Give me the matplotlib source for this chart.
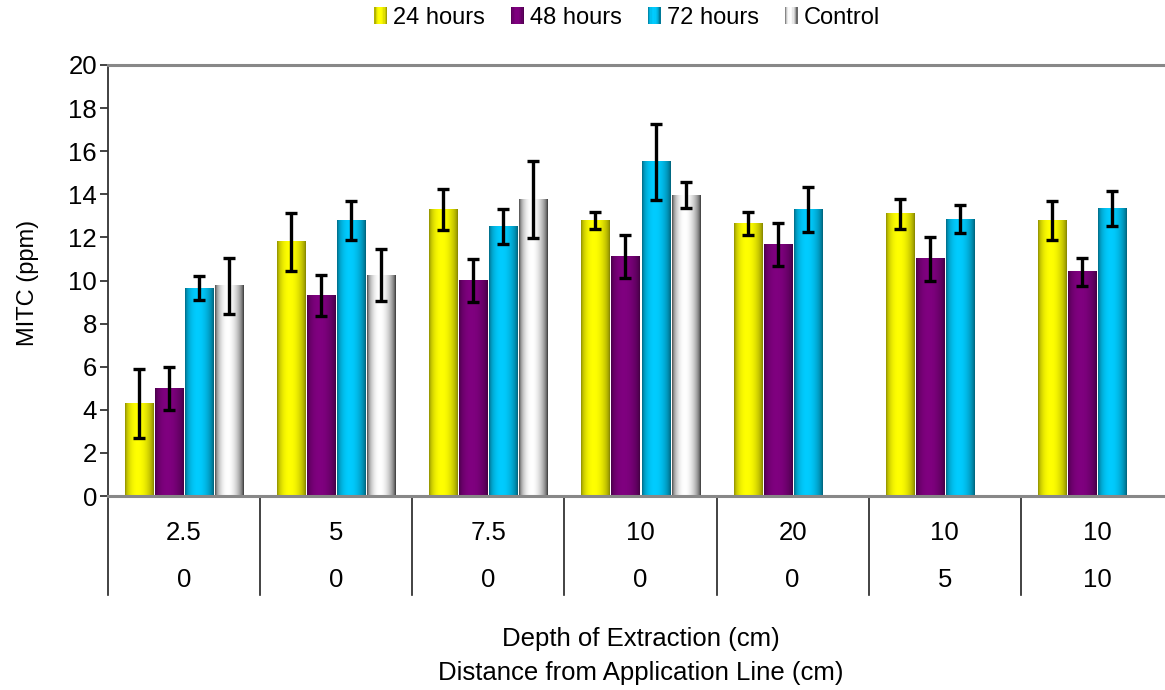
import numpy as np
import matplotlib
matplotlib.use("Agg")
import matplotlib.pyplot as plt
from matplotlib.patches import Rectangle
from matplotlib.legend_handler import HandlerBase
import matplotlib.transforms as mtransforms

plt.rcParams['font.family'] = ['Liberation Sans', 'DejaVu Sans']

# ---- data ----
depth_labels = ["2.5", "5", "7.5", "10", "20", "10", "10"]
distance_labels = ["0", "0", "0", "0", "0", "5", "10"]
series_names = ["24 hours", "48 hours", "72 hours", "Control"]

mitc_24h = [4.3, 11.8, 13.3, 12.8, 12.65, 13.1, 12.8]
mitc_48h = [5.0, 9.3, 10.0, 11.1, 11.65, 11.0, 10.4]
mitc_72h = [9.65, 12.8, 12.5, 15.5, 13.3, 12.85, 13.35]
mitc_ctrl = [9.75, 10.25, 13.75, 13.95, np.nan, np.nan, np.nan]

err_24h = [1.6, 1.35, 0.95, 0.4, 0.55, 0.7, 0.9]
err_48h = [1.0, 0.95, 1.0, 1.0, 1.0, 1.0, 0.65]
err_72h = [0.55, 0.9, 0.8, 1.75, 1.05, 0.65, 0.8]
err_ctrl = [1.3, 1.2, 1.8, 0.6, np.nan, np.nan, np.nan]

values = [mitc_24h, mitc_48h, mitc_72h, mitc_ctrl]
errors = [err_24h, err_48h, err_72h, err_ctrl]

base_colors = [(1.0, 1.0, 0.0), (0.5, 0.0, 0.5), (0.0, 0.8, 1.0), (1.0, 1.0, 1.0)]
edge_levels = [0.45, 0.45, 0.4, 0.12]

FS = 17         # y title and legend
FS_X = 18.5     # x title
FS_TICK = 18.5  # tick and category labels


def shade_strip(color, lo, n=64):
    """Cylinder-like shading across a bar: dark edges, bright core."""
    t = (np.arange(n) + 0.5) / n
    s = np.sin(np.pi * np.clip(t ** 0.85, 0, 1)) ** 0.55
    f = lo + (1 - lo) * s
    return np.outer(f, np.array(color))


# ---- figure ----
W, H = 1165, 690
fig = plt.figure(figsize=(W / 100, H / 100), dpi=100)
ax = fig.add_axes([108 / W, (H - 496) / H, 1065 / W, 431 / H])

n_groups = len(depth_labels)
x = np.arange(n_groups)
slot = 30 / 152
bar_w = 28 / 152

for k, (vals, errs) in enumerate(zip(values, errors)):
    pos = x + (k - 1.5) * slot
    vals_arr = np.array(vals, dtype=float)
    bars = ax.bar(pos, np.nan_to_num(vals_arr), width=bar_w, color='none',
                  edgecolor='none', zorder=2)
    strip = shade_strip(base_colors[k], edge_levels[k])[None, :, :]
    for b, v in zip(bars, vals_arr):
        if np.isnan(v):
            continue
        x0, w, h = b.get_x(), b.get_width(), b.get_height()
        ax.imshow(strip, extent=(x0, x0 + w, 0, h), aspect='auto',
                  interpolation='bilinear', zorder=2)
    ax.errorbar(pos, vals_arr, yerr=np.array(errs, dtype=float), fmt='none',
                ecolor='black', elinewidth=2.4, capsize=4.5, capthick=2.4, zorder=3)

ax.set_xlim(-0.5, n_groups - 0.5)
ax.set_ylim(0, 20)
ax.set_yticks(np.arange(0, 21, 2))
ax.tick_params(axis='y', direction='out', length=6, width=1.2, colors='#222222',
               labelsize=FS_TICK, labelcolor='black', pad=2)
ax.set_xticks([])

for side in ['top', 'bottom']:
    ax.spines[side].set_color('#888888')
    ax.spines[side].set_linewidth(2.2)
ax.spines['left'].set_color('#333333')
ax.spines['left'].set_linewidth(1.3)
ax.spines['right'].set_visible(False)

fig.text(28 / W, 1 - 283 / H, "MITC (ppm)", rotation=90, ha='center', va='center',
         fontsize=FS)

# category table under the axis
trans = mtransforms.blended_transform_factory(ax.transData, ax.transAxes)
for b in np.arange(n_groups + 1) - 0.5:
    ax.plot([b, b], [0, -0.23], transform=trans, color='#222222', lw=1.2,
            clip_on=False)
for xi, d, s in zip(x, depth_labels, distance_labels):
    ax.text(xi, -0.085, d, transform=trans, ha='center', va='center', fontsize=FS_TICK)
    ax.text(xi, -0.195, s, transform=trans, ha='center', va='center', fontsize=FS_TICK)

fig.text(641 / W, 1 - 656 / H, "Depth of Extraction (cm)\nDistance from Application Line (cm)",
         ha='center', va='center', fontsize=FS_X, linespacing=1.5)


# legend with shaded swatches
class ShadedHandler(HandlerBase):
    def __init__(self, color, lo):
        super().__init__()
        self.color = color
        self.lo = lo

    def create_artists(self, legend, orig_handle, xdescent, ydescent, width,
                       height, fontsize, trans):
        n = 10
        rgb = shade_strip(self.color, self.lo, n)
        sw = width / n
        arts = []
        for i in range(n):
            r = Rectangle((-xdescent + i * sw, -ydescent), sw * 1.05, height,
                          facecolor=rgb[i], edgecolor='none', transform=trans)
            arts.append(r)
        return arts


handles = [Rectangle((0, 0), 1, 1) for _ in series_names]
handler_map = {h: ShadedHandler(c, lo) for h, c, lo in zip(handles, base_colors, edge_levels)}
fig.legend(handles, series_names, handler_map=handler_map, loc='center',
           bbox_to_anchor=(627 / W, 1 - 18 / H), ncol=4, frameon=False,
           fontsize=FS, handlelength=0.55, handleheight=0.7, handletextpad=0.25,
           columnspacing=1.1, borderaxespad=0)

fig.savefig("out.png", dpi=100)
